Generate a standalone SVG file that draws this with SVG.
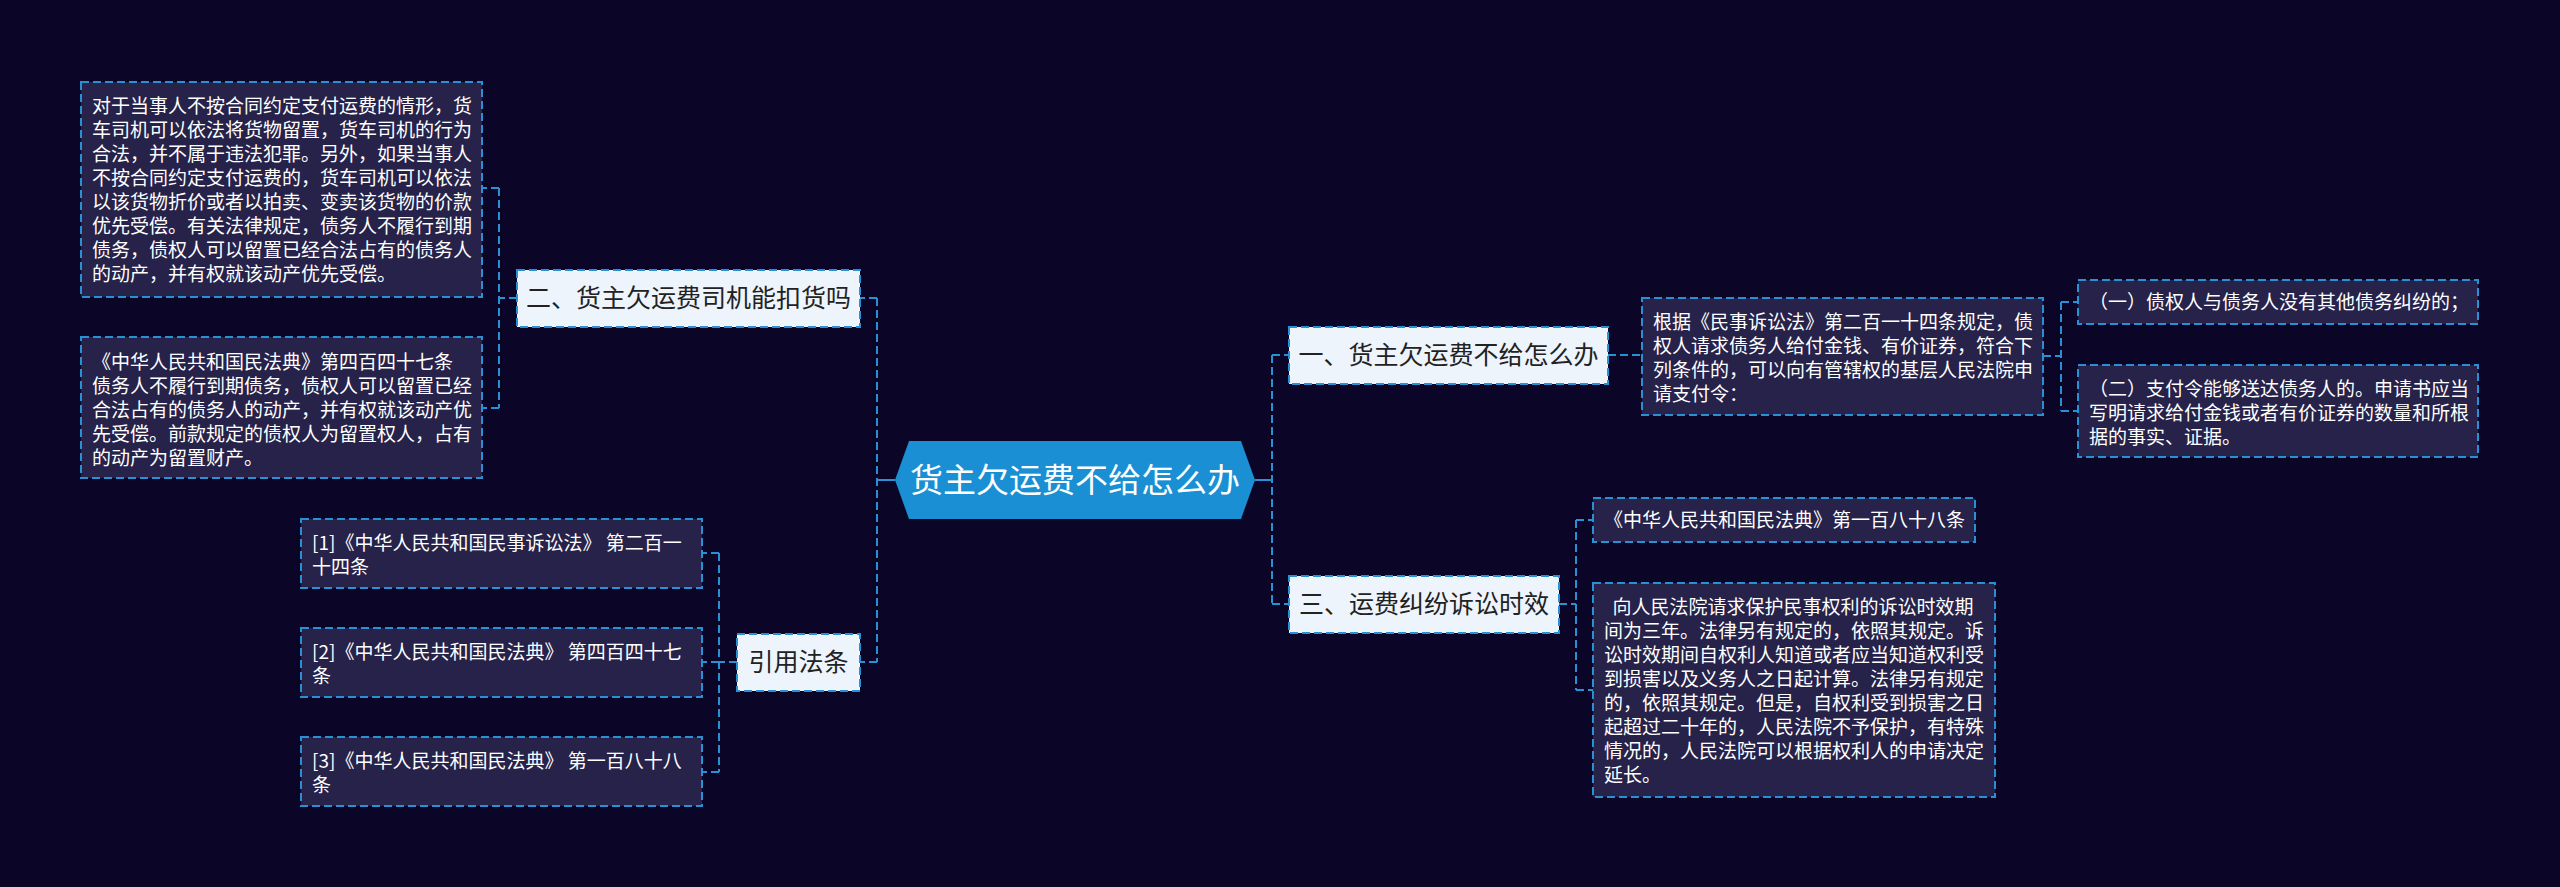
<svg xmlns="http://www.w3.org/2000/svg" width="2560" height="887" viewBox="0 0 2560 887">
<style>
.bg{fill:#0b0628}
.leaf{fill:#26224a;stroke:#2a90d4;stroke-width:2;stroke-dasharray:8 4}
.br{fill:#eef4fc;stroke:#2a90d4;stroke-width:2;stroke-dasharray:8 4}
.lt{font-family:"Noto Sans CJK SC","Liberation Sans",sans-serif;font-size:19px;fill:#ffffff}
.bt{font-family:"Noto Sans CJK SC","Liberation Sans",sans-serif;font-size:25px;fill:#222222;text-anchor:middle}
.rt{font-family:"Noto Sans CJK SC","Liberation Sans",sans-serif;font-size:33px;fill:#ffffff;text-anchor:middle}
.c{fill:none;stroke:#2a90d4;stroke-width:2;stroke-dasharray:8 4}
.cs{fill:none;stroke:#2a90d4;stroke-width:2}
</style>
<rect class="bg" x="0" y="0" width="2560" height="887"/>
<g id="connectors">
<path class="cs" d="M895,480 H877 M1255,480 H1272"/>
<path class="c" d="M877,298 V662 M877,298 H860 M877,662 H860"/>
<path class="c" d="M517,298 H499 M499,188 V408 M499,188 H482 M499,408 H482"/>
<path class="c" d="M737,662 H719 M719,553 V772 M719,553 H702 M719,662 H702 M719,772 H702"/>
<path class="c" d="M1272,355 V604 M1272,355 H1289 M1272,604 H1289"/>
<path class="c" d="M1608,355 H1642"/>
<path class="c" d="M2043,356 H2061 M2061,302 V411 M2061,302 H2078 M2061,411 H2078"/>
<path class="c" d="M1559,604 H1576 M1576,520 V690 M1576,520 H1593 M1576,690 H1593"/>
</g>
<g id="root">
<polygon points="895,480 909,441 1241,441 1255,480 1241,519 909,519" fill="#1a8fd4"/>
<text class="rt" x="1075" y="492">货主欠运费不给怎么办</text>
</g>
<g id="branch2">
<rect class="br" x="517" y="270" width="343" height="57"/>
<text class="bt" x="688.5" y="307">二、货主欠运费司机能扣货吗</text>
</g>
<g id="leaf2a">
<rect class="leaf" x="81" y="82" width="401" height="215"/>
<text class="lt" x="92" y="113">
<tspan x="92" y="113">对于当事人不按合同约定支付运费的情形，货</tspan>
<tspan x="92" y="137">车司机可以依法将货物留置，货车司机的行为</tspan>
<tspan x="92" y="161">合法，并不属于违法犯罪。另外，如果当事人</tspan>
<tspan x="92" y="185">不按合同约定支付运费的，货车司机可以依法</tspan>
<tspan x="92" y="209">以该货物折价或者以拍卖、变卖该货物的价款</tspan>
<tspan x="92" y="233">优先受偿。有关法律规定，债务人不履行到期</tspan>
<tspan x="92" y="257">债务，债权人可以留置已经合法占有的债务人</tspan>
<tspan x="92" y="281">的动产，并有权就该动产优先受偿。</tspan>
</text>
</g>
<g id="leaf2b">
<rect class="leaf" x="81" y="337" width="401" height="141"/>
<text class="lt" x="92" y="369">
<tspan x="92" y="369">《中华人民共和国民法典》第四百四十七条</tspan>
<tspan x="92" y="393">债务人不履行到期债务，债权人可以留置已经</tspan>
<tspan x="92" y="417">合法占有的债务人的动产，并有权就该动产优</tspan>
<tspan x="92" y="441">先受偿。前款规定的债权人为留置权人，占有</tspan>
<tspan x="92" y="465">的动产为留置财产。</tspan>
</text>
</g>
<g id="citations">
<rect class="br" x="737" y="634" width="123" height="57"/>
<text class="bt" x="798.5" y="671">引用法条</text>
</g>
<g id="cite1">
<rect class="leaf" x="301" y="519" width="401" height="69"/>
<text class="lt" x="312" y="550">
<tspan x="312" y="550">[1]《中华人民共和国民事诉讼法》 第二百一</tspan>
<tspan x="312" y="574">十四条</tspan>
</text>
</g>
<g id="cite2">
<rect class="leaf" x="301" y="628" width="401" height="69"/>
<text class="lt" x="312" y="659">
<tspan x="312" y="659">[2]《中华人民共和国民法典》 第四百四十七</tspan>
<tspan x="312" y="683">条</tspan>
</text>
</g>
<g id="cite3">
<rect class="leaf" x="301" y="737" width="401" height="69"/>
<text class="lt" x="312" y="768">
<tspan x="312" y="768">[3]《中华人民共和国民法典》 第一百八十八</tspan>
<tspan x="312" y="792">条</tspan>
</text>
</g>
<g id="branch1">
<rect class="br" x="1289" y="327" width="319" height="57"/>
<text class="bt" x="1448.5" y="364">一、货主欠运费不给怎么办</text>
</g>
<g id="leaf1">
<rect class="leaf" x="1642" y="298" width="401" height="117"/>
<text class="lt" x="1653" y="329">
<tspan x="1653" y="329">根据《民事诉讼法》第二百一十四条规定，债</tspan>
<tspan x="1653" y="353">权人请求债务人给付金钱、有价证券，符合下</tspan>
<tspan x="1653" y="377">列条件的，可以向有管辖权的基层人民法院申</tspan>
<tspan x="1653" y="401">请支付令：</tspan>
</text>
</g>
<g id="leaf1a">
<rect class="leaf" x="2078" y="280" width="400" height="44"/>
<text class="lt" x="2089" y="309">（一）债权人与债务人没有其他债务纠纷的；</text>
</g>
<g id="leaf1b">
<rect class="leaf" x="2078" y="365" width="400" height="92"/>
<text class="lt" x="2089" y="396">
<tspan x="2089" y="396">（二）支付令能够送达债务人的。申请书应当</tspan>
<tspan x="2089" y="420">写明请求给付金钱或者有价证券的数量和所根</tspan>
<tspan x="2089" y="444">据的事实、证据。</tspan>
</text>
</g>
<g id="branch3">
<rect class="br" x="1289" y="576" width="270" height="57"/>
<text class="bt" x="1424" y="613">三、运费纠纷诉讼时效</text>
</g>
<g id="leaf3a">
<rect class="leaf" x="1593" y="498" width="382" height="44"/>
<text class="lt" x="1604" y="527">《中华人民共和国民法典》第一百八十八条</text>
</g>
<g id="leaf3b">
<rect class="leaf" x="1593" y="583" width="402" height="214"/>
<text class="lt" x="1604" y="614" xml:space="preserve"><tspan x="1604" y="614">  向人民法院请求保护民事权利的诉讼时效期</tspan><tspan x="1604" y="638">间为三年。法律另有规定的，依照其规定。诉</tspan><tspan x="1604" y="662">讼时效期间自权利人知道或者应当知道权利受</tspan><tspan x="1604" y="686">到损害以及义务人之日起计算。法律另有规定</tspan><tspan x="1604" y="710">的，依照其规定。但是，自权利受到损害之日</tspan><tspan x="1604" y="734">起超过二十年的，人民法院不予保护，有特殊</tspan><tspan x="1604" y="758">情况的，人民法院可以根据权利人的申请决定</tspan><tspan x="1604" y="782">延长。</tspan></text>
</g>
</svg>
